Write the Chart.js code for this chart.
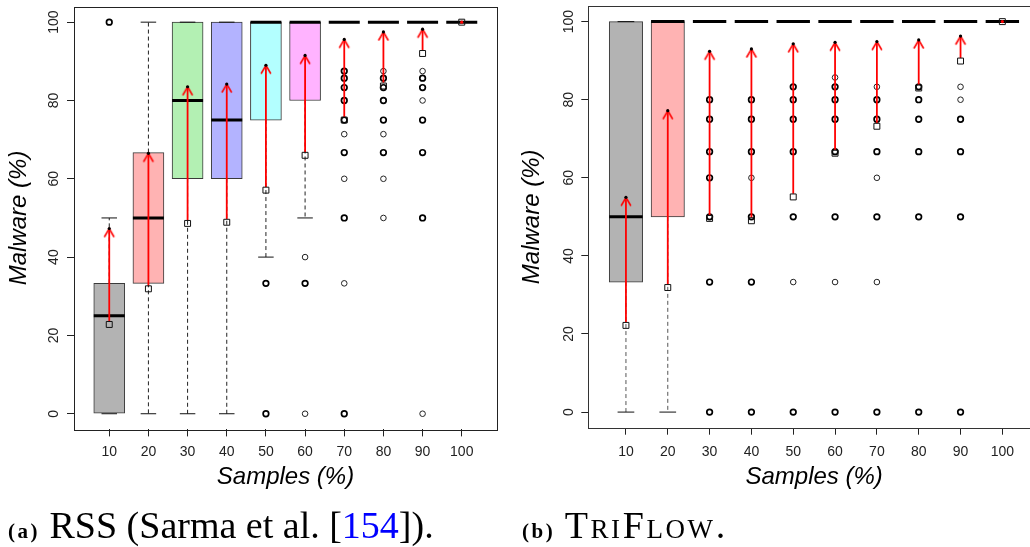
<!DOCTYPE html>
<html><head><meta charset="utf-8">
<script src="https://cdn.jsdelivr.net/npm/chart.js@4.4.1/dist/chart.umd.min.js"></script>
<style>
html,body{margin:0;padding:0;background:#fff;width:1030px;height:547px;overflow:hidden;position:relative}
#c1{position:absolute;left:0;top:0}
#c2{position:absolute;left:515px;top:0}
.cap{position:absolute;font-family:'Liberation Serif','Times New Roman',serif;font-size:38px;line-height:38px;white-space:nowrap;color:#000}
.cap b{font-size:21px;letter-spacing:2.5px;font-weight:bold}
</style></head><body>
<canvas id="c1" width="515" height="547"></canvas>
<canvas id="c2" width="530" height="547"></canvas>
<div class="cap" style="left:8px;top:506px"><b>(a)</b> RSS (Sarma et al. [<span style="color:#0000ff">154</span>]).</div>
<div class="cap" style="left:522px;top:506px"><b>(b)</b> <span style="font-variant:small-caps;letter-spacing:2.6px">TriFlow.</span></div>
<script>
// ---------- data ----------
const categories = [10, 20, 30, 40, 50, 60, 70, 80, 90, 100];
const xTickLabels = ['10','20','30','40','50','60','70','80','90','100'];
const yTickValues = [0, 20, 40, 60, 80, 100];
const xTitle = 'Samples (%)';
const yTitle = 'Malware (%)';
const boxColors = ['#B3B3B3','#FFB3B3','#B3F0B3','#B3B3FF','#B3FFFF','#FFB3FF','#B3B3B3','#FFB3B3','#B3F0B3','#B3B3FF'];

// (a) RSS
const rssQ1      = [0, 33.3, 60, 60, 75, 80, 100, 100, 100, 100];
const rssQ3      = [33.3, 66.7, 100, 100, 100, 100, 100, 100, 100, 100];
const rssMedian  = [25, 50, 80, 75, 100, 100, 100, 100, 100, 100];
const rssLow     = [0, 0, 0, 0, 40, 50, 100, 100, 100, 100];
const rssHigh    = [50, 100, 100, 100, 100, 100, 100, 100, 100, 100];
const rssMean    = [22.8, 31.9, 48.6, 48.9, 57.1, 66, 75, 83.7, 92, 100];
const rssArrowTo = [47.3, 66.5, 83.5, 84.2, 89, 91.5, 95.6, 97.5, 98.2, 100];
const rssOutliersBold = [[10,100],[50,33.3],[50,0],[60,33.3],
  [70,87.5],[70,85.7],[70,83.3],[70,80],[70,75],[70,66.7],[70,50],[70,0],
  [80,85.7],[80,83.3],[80,80],[80,75],[80,66.7],
  [90,85.7],[90,83.3],[90,75],[90,66.7],[90,50]];
const rssOutliersThin = [[60,40],[60,0],[70,71.4],[70,60],[70,33.3],
  [80,87.5],[80,71.4],[80,60],[80,50],
  [90,87.5],[90,80],[90,0]];

// (b) TriFlow
const tfQ1      = [33.3, 50, 100, 100, 100, 100, 100, 100, 100, 100];
const tfQ3      = [100, 100, 100, 100, 100, 100, 100, 100, 100, 100];
const tfMedian  = [50, 100, 100, 100, 100, 100, 100, 100, 100, 100];
const tfLow     = [0, 0, 100, 100, 100, 100, 100, 100, 100, 100];
const tfHigh    = [100, 100, 100, 100, 100, 100, 100, 100, 100, 100];
const tfMean    = [22.2, 31.9, 49.6, 49, 55.1, 66.3, 73.2, 83, 89.9, 100];
const tfArrowTo = [55, 77.2, 92.4, 93, 94.3, 94.7, 94.9, 95.3, 96.3, 100];
const tfOutliersBold = [
  [30,80],[30,75],[30,66.7],[30,60],[30,50],[30,33.3],[30,0],
  [40,80],[40,75],[40,66.7],[40,50],[40,33.3],[40,0],
  [50,83.3],[50,80],[50,75],[50,66.7],[50,50],[50,0],
  [60,83.3],[60,80],[60,75],[60,66.7],[60,50],[60,0],
  [70,80],[70,75],[70,66.7],[70,50],[70,0],
  [80,83.3],[80,80],[80,75],[80,66.7],[80,50],[80,0],
  [90,75],[90,66.7],[90,50],[90,0]];
const tfOutliersThin = [[40,60],[50,33.3],[60,85.7],[60,33.3],[70,83.3],[70,60],[70,33.3],[90,83.3],[90,80]];

// ---------- helpers ----------
function makeHead(){
  const c = document.createElement('canvas'); c.width = 14; c.height = 22;
  const g = c.getContext('2d');
  g.strokeStyle = '#ff0000'; g.lineWidth = 1.6; g.lineCap = 'round';
  g.beginPath(); g.moveTo(7-4.6, 11+8); g.lineTo(7, 11); g.lineTo(7+4.6, 11+8); g.stroke();
  return c;
}
const headImg = makeHead();

function panel(id, P){
  const xs = categories;
  const boxData = [], boxCol = [];
  xs.forEach((c,i)=>{ if (P.q3[i] > P.q1[i]) { boxData.push({x:c, y:[P.q1[i], P.q3[i]]}); boxCol.push(boxColors[i]); } });
  const whisk = [];
  xs.forEach((c,i)=>{
    if (P.hi[i] > P.q3[i]) whisk.push({x:c,y:P.q3[i]},{x:c,y:P.hi[i]},{x:c,y:null});
    if (P.lo[i] < P.q1[i]) whisk.push({x:c,y:P.q1[i]},{x:c,y:P.lo[i]},{x:c,y:null});
  });
  const caps = []; xs.forEach((c,i)=>{ caps.push({x:c,y:P.lo[i]},{x:c,y:P.hi[i]}); });
  const meds = xs.map((c,i)=>({x:c,y:P.med[i]}));
  const shafts = [], heads = [], same = [];
  xs.forEach((c,i)=>{
    if (P.tip[i] - P.mean[i] > 0.5) {
      shafts.push({x:c,y:P.mean[i]+0.8},{x:c,y:P.tip[i]},{x:c,y:null});
      heads.push({x:c,y:P.tip[i]});
    } else same.push({x:c,y:P.mean[i]});
  });
  const squares = xs.map((c,i)=>({x:c,y:P.mean[i]}));
  const bold = P.outB.map(([c,v])=>({x:c,y:v}));
  const thin = P.outT.map(([c,v])=>({x:c,y:v}));

  const gridOpt = {display:true, drawOnChartArea:false, drawTicks:true, tickLength:7, color:'#222', lineWidth:1, offset:false};
  const decor = {
    id:'decor'+id,
    afterDraw(chart){
      const {ctx, chartArea:a, scales:{x, y}} = chart;
      ctx.save();
      ctx.strokeStyle = P.frame; ctx.lineWidth = 1;
      ctx.strokeRect(Math.round(a.left)+0.5, Math.round(a.top)+0.5, Math.round(a.right-a.left), Math.round(a.bottom-a.top));
      ctx.fillStyle = '#222';
      ctx.font = '14px "Liberation Sans", Arial, sans-serif';
      ctx.textAlign = 'center'; ctx.textBaseline = 'alphabetic';
      yTickValues.forEach(v=>{
        const py = y.getPixelForValue(v);
        ctx.save(); ctx.translate(P.yLabX, py); ctx.rotate(-Math.PI/2); ctx.fillText(String(v), 0, 0); ctx.restore();
      });
      ctx.fillStyle = '#000';
      ctx.font = 'italic 24px "Liberation Sans", Arial, sans-serif';
      ctx.fillText(xTitle, (a.left+a.right)/2, P.xTitleY);
      ctx.save(); ctx.translate(P.yTitleX, (a.top+a.bottom)/2); ctx.rotate(-Math.PI/2); ctx.fillText(yTitle, 0, 0); ctx.restore();
      ctx.restore();
    }
  };

  return new Chart(document.getElementById(id), {
    type:'bar',
    data:{datasets:[
      {type:'bar', data:boxData, backgroundColor:boxCol, borderColor:'#3a3a3a', borderWidth:1, borderSkipped:false, barThickness:P.boxW, order:10},
      {type:'line', data:whisk, borderColor:P.dash, borderWidth:1, borderDash:[4,3], pointRadius:0, spanGaps:false, fill:false, order:9},
      {type:'scatter', data:caps, pointStyle:'line', pointRadius:P.boxW/4, pointBorderWidth:1, pointBorderColor:'#111', borderColor:'#111', order:8},
      {type:'scatter', data:meds, pointStyle:'line', pointRadius:P.boxW/2, pointBorderWidth:3, pointBorderColor:'#000', borderColor:'#000', order:7},
      {type:'scatter', data:thin, pointStyle:'circle', pointRadius:2.8, pointBorderWidth:1, pointBorderColor:'#222', pointBackgroundColor:'rgba(0,0,0,0)', order:6},
      {type:'scatter', data:bold, pointStyle:'circle', pointRadius:2.8, pointBorderWidth:1.7, pointBorderColor:'#000', pointBackgroundColor:'rgba(0,0,0,0)', order:5},
      {type:'line', data:shafts, borderColor:'#ff0000', borderWidth:1.8, pointRadius:0, spanGaps:false, fill:false, order:4},
      {type:'scatter', data:heads, pointStyle:headImg, pointRadius:6, order:3},
      {type:'scatter', data:squares, pointStyle:'rect', pointRadius:4.2, pointBorderWidth:1, pointBorderColor:'#111', pointBackgroundColor:'rgba(0,0,0,0)', order:2},
      {type:'scatter', data:heads, pointStyle:'circle', pointRadius:1.6, pointBorderWidth:0, pointBackgroundColor:'#000', order:1},
      {type:'scatter', data:same, pointStyle:'circle', pointRadius:1.6, pointBorderWidth:0, pointBackgroundColor:'#ff0000', order:0}
    ]},
    options:{
      responsive:false, animation:false, events:[],
      layout:{autoPadding:false, padding:{top:P.top, right:P.cw-P.right, left:0, bottom:0}},
      plugins:{legend:{display:false}, tooltip:{enabled:false}},
      scales:{
        x:{type:'linear', min:1, max:109, offset:false,
          afterBuildTicks:s=>{ s.ticks = categories.map(v=>({value:v})); },
          afterFit:s=>{ s.height = P.ch - P.bottom; },
          ticks:{autoSkip:false, maxRotation:0, minRotation:0, padding:P.xPad, color:'#222',
            font:{family:'"Liberation Sans", Arial, sans-serif', size:14}, callback:(v,i)=>xTickLabels[i]},
          grid:gridOpt, border:{display:false}},
        y:{type:'linear', min:-4, max:104,
          afterBuildTicks:s=>{ s.ticks = yTickValues.map(v=>({value:v})); },
          afterFit:s=>{ s.width = P.left; },
          ticks:{display:false},
          grid:gridOpt, border:{display:false}}
      }
    },
    plugins:[decor]
  });
}

panel('c1', {q1:rssQ1, q3:rssQ3, med:rssMedian, lo:rssLow, hi:rssHigh, mean:rssMean, tip:rssArrowTo,
  outB:rssOutliersBold, outT:rssOutliersThin,
  cw:515, ch:547, left:74, right:497, top:6.5, bottom:429.4, boxW:31,
  yLabX:57.5, yTitleX:26, xTitleY:484.3, xPad:7, dash:'#222', frame:'#222'});
panel('c2', {q1:tfQ1, q3:tfQ3, med:tfMedian, lo:tfLow, hi:tfHigh, mean:tfMean, tip:tfArrowTo,
  outB:tfOutliersBold, outT:tfOutliersThin,
  cw:530, ch:547, left:73.3, right:525, top:6, bottom:427.7, boxW:33.4,
  yLabX:57.5, yTitleX:24, xTitleY:484.3, xPad:8.7, dash:'#555', frame:'#333'});
</script>
</body></html>
